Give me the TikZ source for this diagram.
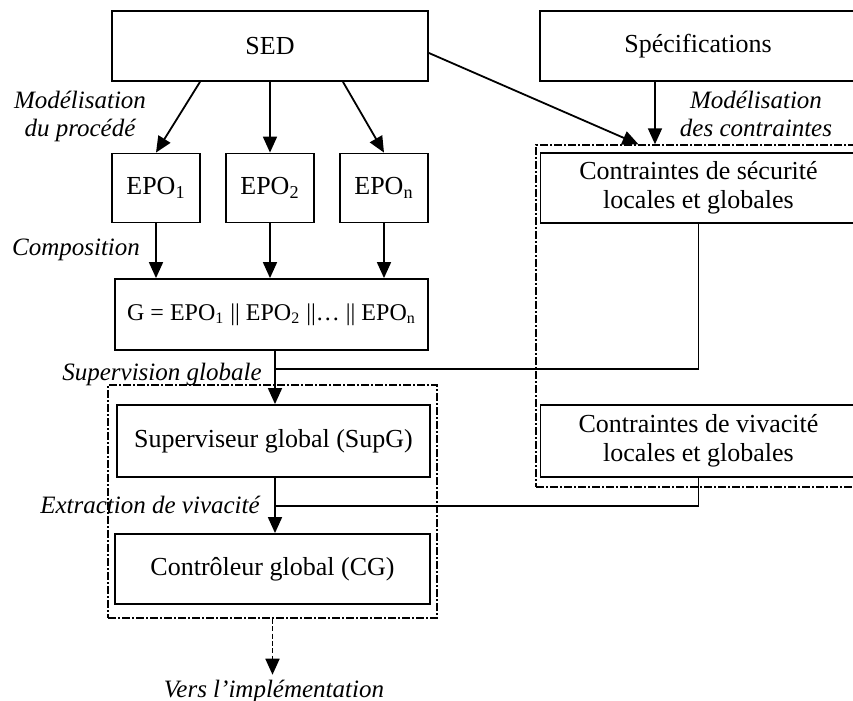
\documentclass[tikz,border=0pt]{standalone}
\usepackage{fontspec}
\setmainfont{Liberation Serif}
\usetikzlibrary{arrows.meta}

\begin{document}
\begin{tikzpicture}[x=0.5pt,y=-0.5pt,line width=0.9pt,
        font=\fontsize{13}{14.5}\selectfont,
        box/.style={draw,align=center,inner sep=0pt,minimum width=158pt,minimum height=35pt},
        epobox/.style={draw,inner sep=0pt,minimum width=44pt,minimum height=34.5pt},
        grp/.style={draw,line width=0.7pt,dash pattern=on 4pt off 1pt on 1pt off 1pt,inner sep=0pt},
        lbl/.style={font=\fontsize{12.5}{14}\selectfont\itshape,align=center,inner sep=0pt},
        arr/.style={-{Triangle[length=8pt,width=7pt]}}]
        \path[use as bounding box,clip] (0,0) rectangle (853,701);
        \node[box] (sed) at (270,46) {SED};
        \node[box] (spec) at (698,46) {Spécifications};
        \foreach \i/\x/\s in {1/156/1,2/270/2,3/384/n}{%
            \node[epobox] (epo\i) at (\x,188) {EPO\textsubscript{\s}};
        }
        \node[box,font=\fontsize{12}{14}\selectfont,minimum width=156.5pt,minimum height=35.5pt] (g) at (271.5,314.5) {G = EPO\textsubscript{1} || EPO\textsubscript{2} ||… || EPO\textsubscript{n}};
        \node[box,minimum width=156.5pt,minimum height=36pt] (supg) at (273.5,441) {Superviseur global (SupG)};
        \node[box,minimum width=157.5pt] (cg) at (272.5,569) {Contrôleur global (CG)};
        \node[box] (secu) at (698.5,188) {Contraintes de sécurité\\locales et globales};
        \node[box,minimum height=36pt] (viva) at (698.5,441) {Contraintes de vivacité\\locales et globales};
        \node[grp,minimum width=164.5pt,minimum height=116.5pt] (grpL) at (272.5,501.5) {};
        \node[grp,minimum width=162.5pt,minimum height=171pt] (grpR) at (698.5,316) {};
        \node[lbl] (mproc) at (80,116) {Modélisation\\du procédé};
        \node[lbl] (mcont) at (756,114) {Modélisation\\des contraintes};
        \node[lbl,anchor=base] (comp) at (76,256) {Composition};
        \node[lbl,anchor=base] (supglob) at (162,380) {Supervision globale};
        \node[lbl,anchor=base] (extr) at (150,513) {Extraction de vivacité};
        \node[lbl,anchor=base,inner sep=2pt] (impl) at (274,697) {Vers l’implémentation};
        \coordinate (j1) at (275,369);
        \coordinate (j2) at (275,506);
        \draw[arr] ([xshift=-35pt]sed.south) -- (epo1.north);
        \draw[arr] (sed.south -| epo2.north) -- (epo2.north);
        \draw[arr] ([xshift=36.5pt]sed.south) -- (epo3.north);
        \draw[arr] ([yshift=-3.5pt]sed.east) -- ([xshift=-30pt]grpR.north);
        \draw[arr] ([xshift=-21.5pt]spec.south) -- ([xshift=-21.5pt]spec.south |- grpR.north);
        \foreach \i in {1,2,3}{%
            \draw[arr] (epo\i.south) -- (epo\i.south |- g.north);
        }
        \draw[arr] (g.south -| j1) -- (supg.north -| j1);
        \draw (secu.south) |- (j1);
        \draw[arr] (supg.south -| j2) -- (cg.north -| j2);
        \draw (viva.south) |- (j2);
        \draw[arr,dash pattern=on 2.5pt off 1.2pt] (grpL.south) -- (grpL.south |- impl.north);
    \end{tikzpicture}
\end{document}
